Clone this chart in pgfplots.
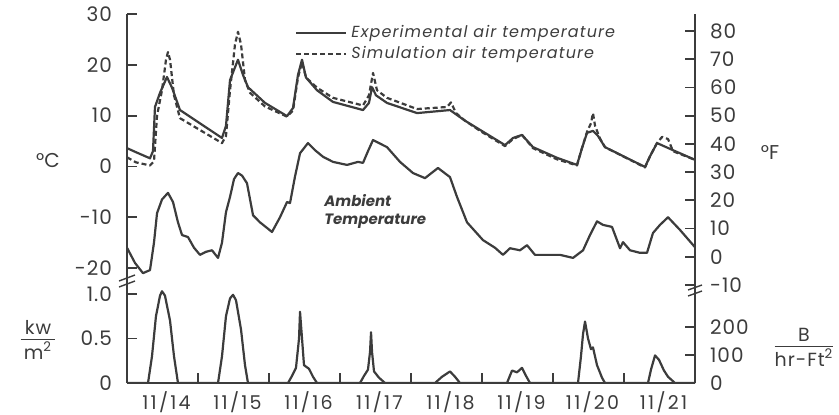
\documentclass[border=0pt]{standalone}
\usepackage{pgfplots}
\pgfplotsset{compat=1.18}
\usepackage{pgfplotstable}
\usepackage{fontspec}
\setmainfont{Poppins}
\newfontfamily\tickfam[LetterSpace=5]{Poppins}
\newfontfamily\datefam[LetterSpace=12]{Poppins}
\newfontfamily\legfam[LetterSpace=7]{Poppins}
\definecolor{ink}{HTML}{3C3C3C}

% days from 11/14 00:00, temperatures in deg C
\pgfplotstableread{
d T
0.000 3.6
0.127 2.8
0.324 1.6
0.366 3.0
0.394 11.7
0.465 14.5
0.563 17.6
0.634 15.5
0.746 11.1
1.338 5.6
1.394 8.0
1.451 17.0
1.563 21.0
1.634 18.0
1.704 15.6
1.944 12.5
2.254 9.9
2.338 11.5
2.408 18.0
2.465 21.0
2.521 17.5
2.676 15.0
2.901 12.7
3.324 11.1
3.408 12.5
3.451 15.6
3.507 14.0
3.662 12.5
4.085 10.5
4.549 11.1
4.761 9.0
4.972 7.2
5.324 4.2
5.437 5.6
5.563 6.2
5.718 3.8
6.056 1.7
6.338 0.3
6.408 3.6
6.479 6.6
6.563 7.0
6.634 6.0
6.732 3.8
7.296 -0.1
7.366 2.0
7.465 4.6
7.690 3.2
8.000 1.3
}\exptab

\pgfplotstableread{
d T
0.000 1.8
0.127 0.8
0.324 0.2
0.380 1.0
0.423 10.0
0.493 15.0
0.549 21.0
0.577 22.5
0.606 21.0
0.662 14.0
0.746 9.5
1.338 4.6
1.394 6.0
1.451 15.0
1.521 24.0
1.563 26.5
1.606 24.0
1.662 17.0
1.732 14.5
1.944 11.8
2.254 9.8
2.338 11.0
2.408 17.5
2.465 20.5
2.521 17.5
2.676 15.5
2.901 13.5
3.324 12.0
3.408 14.0
3.465 18.4
3.521 15.0
3.662 13.5
4.085 11.3
4.507 11.7
4.563 12.6
4.634 10.5
4.761 9.0
4.972 7.0
5.324 4.0
5.437 5.4
5.563 6.2
5.718 3.6
6.056 1.4
6.338 0.2
6.408 3.6
6.479 6.8
6.535 8.5
6.563 10.5
6.592 8.0
6.662 5.5
6.732 3.8
7.296 -0.2
7.366 2.0
7.465 4.6
7.535 5.8
7.620 5.4
7.690 3.0
8.000 1.3
}\simtab

\pgfplotstableread{
d T
0.000 -16.0
0.113 -19.0
0.225 -21.0
0.324 -20.4
0.380 -15.0
0.423 -9.2
0.493 -6.5
0.577 -5.2
0.648 -7.0
0.718 -11.0
0.775 -13.5
0.859 -13.9
0.944 -16.0
1.028 -17.4
1.113 -16.8
1.197 -16.5
1.282 -18.0
1.338 -15.0
1.394 -9.0
1.451 -6.0
1.507 -2.5
1.563 -1.3
1.620 -1.8
1.690 -3.3
1.775 -9.6
1.873 -11.0
1.972 -12.1
2.042 -12.9
2.155 -10.0
2.254 -7.0
2.296 -7.2
2.366 -2.0
2.437 2.6
2.549 4.6
2.648 3.2
2.761 1.9
2.901 0.9
3.099 0.3
3.254 0.9
3.324 0.7
3.394 3.0
3.465 5.2
3.563 4.5
3.662 3.8
3.845 0.9
4.028 -1.3
4.197 -2.3
4.380 -0.3
4.549 -2.1
4.648 -6.0
4.789 -11.0
5.014 -14.5
5.183 -16.0
5.296 -17.4
5.394 -16.1
5.535 -16.5
5.634 -15.5
5.746 -17.4
6.099 -17.4
6.282 -18.0
6.423 -16.5
6.521 -13.5
6.620 -10.8
6.704 -11.5
6.831 -11.9
6.944 -16.1
6.986 -14.9
7.085 -16.5
7.225 -17.0
7.324 -17.0
7.408 -13.1
7.507 -11.5
7.620 -10.0
7.789 -12.5
8.000 -15.9
}\ambtab

% solar radiation, kW/m2
\pgfplotstableread{
d q
0.000 0
0.296 0
0.352 0.30
0.408 0.75
0.465 0.98
0.493 1.03
0.535 0.98
0.606 0.70
0.662 0.30
0.718 0
1.282 0
1.338 0.30
1.394 0.75
1.451 0.95
1.493 0.99
1.535 0.93
1.606 0.60
1.662 0.20
1.704 0
2.268 0
2.324 0.08
2.380 0.17
2.423 0.50
2.437 0.80
2.465 0.50
2.493 0.20
2.563 0.16
2.620 0.07
2.676 0
3.282 0
3.338 0.08
3.394 0.15
3.423 0.35
3.437 0.57
3.451 0.35
3.479 0.13
3.549 0.06
3.634 0
4.338 0
4.437 0.07
4.549 0.13
4.620 0.07
4.690 0
5.352 0
5.423 0.14
5.493 0.12
5.563 0.17
5.620 0.08
5.676 0
6.352 0
6.394 0.30
6.423 0.55
6.451 0.69
6.493 0.50
6.535 0.38
6.563 0.40
6.620 0.20
6.690 0.06
6.732 0
7.338 0
7.380 0.15
7.437 0.31
7.493 0.26
7.563 0.14
7.620 0.07
7.718 0
8.000 0
}\soltab

\pgfplotsset{
  panel/.style={
    scale only axis, width=284pt, xmin=0, xmax=8,
    axis line style={ink, line width=0.9pt},
    tick style={ink, line width=0.9pt},
    major tick length=5pt, tick align=inside,
    ticklabel style={font=\tickfam\fontsize{10}{11}\selectfont, text=ink},
    /pgf/number format/assume math mode=true,
  },
  curve/.style={ink, line width=1.1pt, line join=round},
}

\begin{document}
\begin{tikzpicture}
\useasboundingbox (0,0) rectangle (419.5pt,207pt);

% upper panel, deg C
\begin{axis}[panel, name=T, at={(63.5pt,64.5pt)}, anchor=south west,
  height=135.5pt, ymin=-23.333, ymax=30,
  hide x axis, axis y line*=left,
  ytick={-20,-10,...,30},
  yticklabel style={xshift=-4pt},
  legend style={draw=none, fill=none, at={(0.285,0.99)}, anchor=north west,
    font=\legfam\itshape\fontsize{8}{8.5}\selectfont, text=ink, row sep=-1pt},
  legend cell align=left,
  legend image code/.code={\draw[#1] (0pt,0pt) -- (25pt,0pt);},
]
\addplot[curve] table[x=d,y=T] {\exptab};
\addlegendentry{Experimental air temperature}
\addplot[curve, dash pattern=on 2.5pt off 1.5pt] table[x=d,y=T] {\simtab};
\addlegendentry{Simulation air temperature}
\addplot[curve, forget plot] table[x=d,y=T] {\ambtab};
\node[anchor=north west, align=left, font=\itshape\bfseries\fontsize{7.5}{9}\selectfont, text=ink]
  at (axis cs:2.68,-4.2) {Ambient\\Temperature};
\end{axis}

% upper panel, deg F
\begin{axis}[panel, at={(63.5pt,64.5pt)}, anchor=south west,
  height=135.5pt, ymin=-10, ymax=86,
  hide x axis, axis y line*=right,
  ytick={-10,0,...,80},
  yticklabel style={xshift=4pt},
]
\end{axis}

% lower panel, Btu/hr-ft2
\begin{axis}[panel, at={(63.5pt,15.5pt)}, anchor=south west,
  height=49pt, ymin=0, ymax=348.8,
  hide x axis, axis y line*=right,
  ytick={0,100,200},
  yticklabel style={xshift=4pt},
]
\end{axis}

% lower panel, kW/m2
\begin{axis}[panel, name=B, at={(63.5pt,15.5pt)}, anchor=south west,
  height=49pt, ymin=0, ymax=1.10,
  axis x line*=bottom, axis y line*=left,
  ytick={0,0.5,1}, yticklabels={0,0.5,1.0},
  yticklabel style={xshift=-4pt},
  xtick={0.5,1.5,...,7.5},
  xticklabels={11/14,11/15,11/16,11/17,11/18,11/19,11/20,11/21},
  xticklabel style={font=\datefam\fontsize{9.5}{11}\selectfont, yshift=-1pt, xshift=2pt},
  xtick style={draw=none},
]
\addplot[curve] table[x=d,y=q] {\soltab};
\end{axis}

% day boundaries (midnight) on the time axis: 35.5pt per day
\foreach \k in {1,...,7}
  \draw[ink, line width=1.1pt] ({63.5pt+\k*35.5pt},15.5pt) -- ++(0pt,5pt);

% axis breaks
\draw[ink, line width=0.7pt] (59.5pt,63.5pt) -- (67.5pt,66.5pt) (59.5pt,66.5pt) -- (67.5pt,69.5pt);
\draw[ink, line width=0.7pt] (344pt,59pt) -- (351pt,61.5pt) (344pt,62pt) -- (351pt,64.5pt);

% unit labels
\node[text=ink, font=\fontsize{10}{11}\selectfont] at (24pt,127pt) {°C};
\node[text=ink, font=\fontsize{10}{11}\selectfont] at (385pt,130.5pt) {°F};
\node[text=ink, font=\tickfam\fontsize{9.5}{10}\selectfont, inner sep=0pt] at (19pt,35.5pt)
  {\begin{tabular}{@{\,}c@{\,}}kw\\[-1pt]\hline\rule{0pt}{10pt}m\textsuperscript{2}\end{tabular}};
\node[text=ink, font=\tickfam\fontsize{9.5}{10}\selectfont, inner sep=0pt] at (402pt,32pt)
  {\begin{tabular}{@{}c@{}}B\\[-1pt]\hline\rule{0pt}{10pt}hr-Ft\textsuperscript{2}\end{tabular}};
\end{tikzpicture}
\end{document}
